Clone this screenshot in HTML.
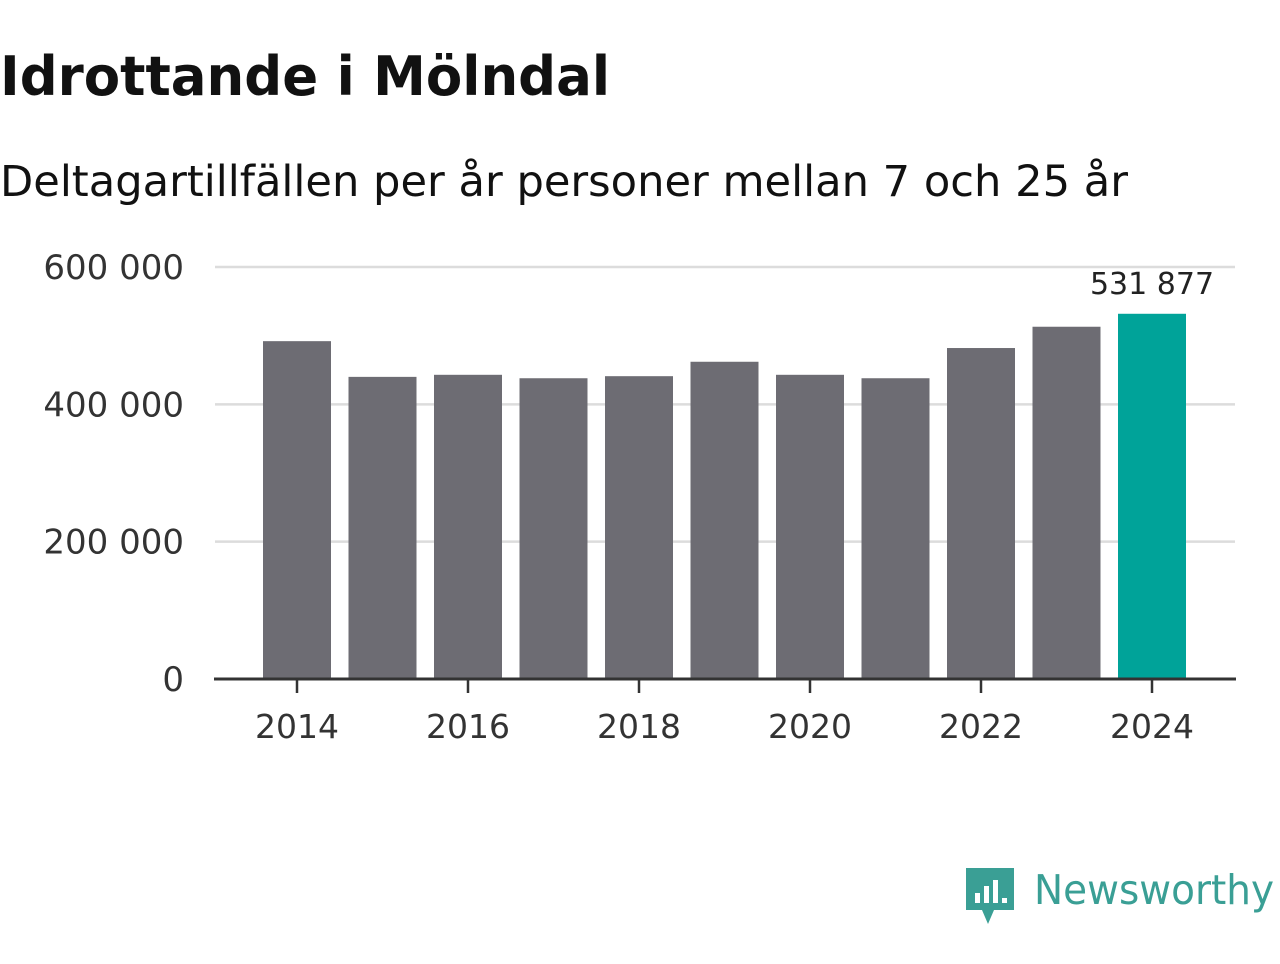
<!DOCTYPE html>
<html><head><meta charset="utf-8"><style>
body{margin:0;width:1280px;height:960px;background:#fff;font-family:"DejaVu Sans","Liberation Sans",sans-serif;overflow:hidden}
</style></head><body>
<svg width="1280" height="960" id="svg" xmlns="http://www.w3.org/2000/svg">
<text x="0" y="95" font-size="54" font-weight="bold" fill="#111" textLength="610" lengthAdjust="spacingAndGlyphs">Idrottande i Mölndal</text>
<text x="0" y="196" font-size="43" fill="#111" textLength="1128" lengthAdjust="spacingAndGlyphs">Deltagartillfällen per år personer mellan 7 och 25 år</text>
<g id="grid"></g><g id="bars"></g><g id="axis"></g>
<g>
<path d="M966 868 h48 v42 h-20 l-6 14 l-6 -14 h-16 z" fill="#3a9f95"/>
<rect x="975" y="893" width="5" height="10" fill="#fff"/><rect x="984" y="886" width="5" height="17" fill="#fff"/><rect x="993" y="880" width="5" height="23" fill="#fff"/><rect x="1002" y="898" width="5" height="5" fill="#fff"/>
<text x="1034" y="904" font-size="41" fill="#3a9f95" textLength="240" lengthAdjust="spacingAndGlyphs">Newsworthy</text>
</g>
</svg>
<script>
const years=[2014,2015,2016,2017,2018,2019,2020,2021,2022,2023,2024];
const values=[492000,440000,443000,438000,441000,462000,443000,438000,482000,513000,531877];
const yTicks=[0,200000,400000,600000];
const yTickLabels=["0","200 000","400 000","600 000"];
const xTickYears=[2014,2016,2018,2020,2022,2024];
const NS="http://www.w3.org/2000/svg";
const y0=679,ppu=412/600000;
const ys=v=>y0-v*ppu;
const xs=yr=>297+(yr-2014)*85.5;
function mk(t,a,p){const e=document.createElementNS(NS,t);for(const k in a)e.setAttribute(k,a[k]);document.getElementById(p).appendChild(e);return e;}
yTicks.forEach((v,i)=>{
 if(v>0){const l=mk('line',{x1:215,x2:1235,y1:ys(v),y2:ys(v),stroke:'#dcdcdc','stroke-width':2.5},'grid');
 
 }
 const t=mk('text',{x:184,y:ys(v)+12,'text-anchor':'end','font-size':34,fill:'#333'},'grid');t.textContent=yTickLabels[i];
 
 
});
years.forEach((yr,i)=>{
 const last=i===years.length-1;
 const r=mk('rect',{x:xs(yr)-34,y:ys(values[i]),width:68,height:values[i]*ppu,fill:last?'#00a399':'#6d6c73'},'bars');
 
 
 if(last){const t=mk('text',{x:xs(yr),y:ys(values[i])-20,'text-anchor':'middle','font-size':30,fill:'#222'},'bars');
 t.textContent=values[i].toLocaleString('en').replace(/,/g,' ');
 
 }
});
const ax=mk('line',{x1:214,x2:1236,y1:y0,y2:y0,stroke:'#333','stroke-width':3},'axis');


xTickYears.forEach(yr=>{
 mk('line',{x1:xs(yr),x2:xs(yr),y1:y0,y2:y0+14,stroke:'#333','stroke-width':2.5},'axis');
 const t=mk('text',{x:xs(yr),y:738,'text-anchor':'middle','font-size':33,fill:'#333'},'axis');t.textContent=yr;
 
 
});
</script>
</body></html>
